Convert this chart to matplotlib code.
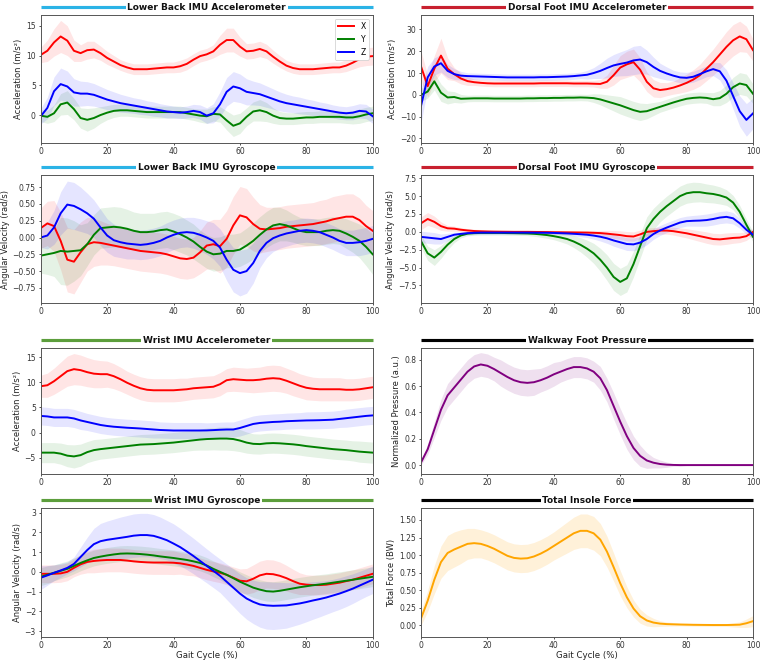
import numpy as np
import matplotlib
matplotlib.use("Agg")
import matplotlib.pyplot as plt
from matplotlib.transforms import offset_copy

# gait cycle grid (%)
gait = np.arange(0, 101, 2)

# ---- lower back accelerometer (m/s^2)
lb_acc_x = [10.1, 10.8, 12.2, 13.2, 12.5, 10.8, 10.4, 10.9, 11.0, 10.4,
            9.6, 9.0, 8.4, 8.0, 7.7, 7.7, 7.7, 7.8, 7.9, 8.0,
            8.0, 8.2, 8.6, 9.3, 9.9, 10.2, 10.7, 11.8, 12.6, 12.6,
            11.5, 10.7, 10.8, 11.1, 10.7, 9.8, 9.0, 8.3, 7.9, 7.7,
            7.7, 7.7, 7.8, 7.9, 8.0, 8.0, 8.3, 8.8, 9.4, 9.8,
            9.9]
lb_acc_y = [-0.1, -0.3, 0.3, 1.8, 2.1, 1.0, -0.5, -0.8, -0.5, 0.0,
            0.4, 0.7, 0.8, 0.8, 0.7, 0.6, 0.5, 0.5, 0.5, 0.5,
            0.5, 0.5, 0.3, 0.1, -0.1, -0.2, 0.2, 0.1, -0.9, -1.8,
            -1.4, -0.3, 0.6, 0.8, 0.5, -0.1, -0.5, -0.6, -0.6, -0.5,
            -0.4, -0.4, -0.3, -0.3, -0.3, -0.3, -0.4, -0.4, -0.2, 0.1,
            0.3]
lb_acc_z = [-0.2, 1.2, 4.0, 5.2, 4.8, 3.8, 3.6, 3.6, 3.4, 3.0,
            2.6, 2.3, 2.0, 1.8, 1.6, 1.4, 1.2, 1.0, 0.8, 0.6,
            0.5, 0.4, 0.5, 0.7, 0.5, -0.1, 0.3, 1.8, 3.9, 4.8,
            4.5, 3.9, 3.7, 3.5, 3.1, 2.7, 2.3, 2.0, 1.8, 1.6,
            1.4, 1.2, 1.0, 0.8, 0.6, 0.4, 0.3, 0.4, 0.7, 0.6,
            -0.2]
lb_acc_x_sd = [1.3, 1.8, 2.3, 2.7, 2.5, 1.8, 1.4, 1.5, 1.4, 1.2,
               1.1, 1.0, 0.9, 0.9, 0.9, 0.9, 0.9, 0.9, 0.9, 0.9,
               0.9, 1.0, 1.0, 1.0, 1.0, 1.0, 1.1, 1.6, 2.0, 2.0,
               1.6, 1.3, 1.3, 1.3, 1.2, 1.1, 1.0, 0.9, 0.9, 0.9,
               0.9, 0.9, 0.9, 0.9, 0.9, 0.9, 1.0, 1.1, 1.3, 1.5,
               1.5]
lb_acc_y_sd = [1.0, 1.1, 1.4, 1.8, 2.0, 1.8, 1.7, 1.9, 1.7, 1.4,
               1.2, 1.1, 1.0, 1.0, 1.0, 1.0, 1.0, 1.0, 1.0, 1.0,
               1.0, 1.0, 1.0, 1.0, 1.1, 1.2, 1.2, 1.3, 1.6, 1.8,
               1.7, 1.5, 1.6, 1.8, 1.6, 1.3, 1.1, 1.0, 1.0, 1.0,
               1.0, 1.0, 1.0, 1.0, 1.0, 1.0, 1.0, 1.1, 1.2, 1.2,
               1.2]
lb_acc_z_sd = [1.3, 1.8, 2.4, 2.7, 2.6, 2.3, 2.1, 2.0, 1.9, 1.8,
               1.7, 1.6, 1.5, 1.4, 1.3, 1.3, 1.2, 1.2, 1.1, 1.1,
               1.0, 1.0, 1.0, 1.1, 1.2, 1.3, 1.6, 2.1, 2.4, 2.5,
               2.4, 2.2, 2.0, 1.9, 1.8, 1.7, 1.6, 1.5, 1.4, 1.4,
               1.3, 1.3, 1.2, 1.2, 1.1, 1.1, 1.1, 1.2, 1.2, 1.2,
               1.2]

# ---- dorsal foot accelerometer (m/s^2)
df_acc_x = [13.0, 4.0, 12.0, 18.0, 12.0, 9.5, 7.5, 6.3, 5.8, 5.5,
            5.3, 5.2, 5.2, 5.2, 5.2, 5.2, 5.2, 5.2, 5.3, 5.3,
            5.3, 5.3, 5.3, 5.2, 5.2, 5.2, 5.1, 5.0, 6.0, 9.0,
            12.5, 14.0, 15.0, 11.5, 6.0, 3.0, 2.2, 2.6, 3.3, 4.3,
            5.5, 7.0, 9.0, 12.0, 15.0, 18.5, 22.0, 25.0, 26.8, 25.5,
            20.5]
df_acc_y = [0.0, 1.5, 6.2, 1.0, -1.2, -1.0, -1.8, -1.7, -1.6, -1.6,
            -1.6, -1.7, -1.7, -1.7, -1.7, -1.7, -1.6, -1.6, -1.5, -1.5,
            -1.4, -1.4, -1.3, -1.3, -1.2, -1.3, -1.5, -2.1, -3.0, -3.9,
            -4.8, -5.9, -7.0, -7.8, -7.5, -6.5, -5.5, -4.5, -3.5, -2.6,
            -1.8, -1.4, -1.2, -1.4, -2.0, -1.5, 0.5, 3.5, 5.2, 4.5,
            0.5]
df_acc_z = [-5.0, 8.0, 13.0, 14.5, 11.0, 9.5, 8.8, 8.6, 8.5, 8.4,
            8.3, 8.2, 8.1, 8.0, 8.0, 8.0, 8.0, 8.0, 8.1, 8.1,
            8.2, 8.3, 8.4, 8.6, 8.9, 9.2, 10.0, 11.0, 12.3, 13.5,
            14.2, 14.8, 15.8, 16.2, 15.0, 12.8, 11.0, 9.8, 8.8, 8.0,
            7.8, 8.3, 9.5, 10.8, 11.8, 10.8, 6.5, -0.5, -7.5, -11.5,
            -8.5]
df_acc_x_sd = [7.0, 5.0, 6.0, 8.0, 5.0, 3.0, 2.5, 2.0, 1.5, 1.5,
               1.5, 1.5, 1.5, 1.5, 1.5, 1.5, 1.5, 1.5, 1.5, 1.5,
               1.5, 1.5, 1.5, 1.5, 1.5, 1.5, 1.5, 2.0, 3.0, 4.5,
               5.5, 6.0, 6.0, 5.5, 4.5, 4.0, 3.5, 3.0, 3.0, 3.5,
               4.0, 4.5, 5.0, 5.5, 6.0, 6.5, 7.0, 7.2, 7.0, 6.0,
               5.0]
df_acc_y_sd = [3.0, 3.0, 4.0, 4.0, 3.0, 2.5, 2.0, 1.5, 1.5, 1.5,
               1.5, 1.5, 1.5, 1.5, 1.5, 1.5, 1.5, 1.5, 1.5, 1.5,
               1.5, 1.5, 1.5, 1.5, 1.5, 1.5, 2.0, 2.5, 3.0, 3.5,
               4.0, 4.0, 4.0, 4.0, 3.5, 3.0, 2.5, 2.5, 2.5, 2.5,
               2.5, 2.5, 2.5, 2.5, 3.0, 3.5, 4.0, 4.5, 5.0, 5.0,
               4.5]
df_acc_z_sd = [8.0, 5.0, 4.0, 4.0, 3.0, 2.5, 2.0, 1.5, 1.5, 1.5,
               1.5, 1.5, 1.5, 1.5, 1.5, 1.5, 1.5, 1.5, 1.5, 1.5,
               1.5, 1.5, 1.5, 1.5, 1.5, 2.0, 2.5, 3.5, 4.5, 5.0,
               5.5, 6.0, 6.5, 6.5, 5.5, 4.5, 3.5, 3.0, 2.5, 2.5,
               2.5, 2.5, 2.5, 2.5, 3.0, 4.0, 5.0, 6.0, 7.0, 7.5,
               7.0]

# ---- lower back gyroscope (rad/s)
lb_gyr_x = [0.14, 0.21, 0.17, -0.05, -0.33, -0.36, -0.22, -0.10, -0.07, -0.08,
            -0.10, -0.12, -0.14, -0.16, -0.18, -0.20, -0.21, -0.22, -0.23, -0.25,
            -0.28, -0.31, -0.32, -0.30, -0.22, -0.12, -0.10, -0.13, -0.02, 0.18,
            0.33, 0.30, 0.20, 0.13, 0.12, 0.13, 0.14, 0.16, 0.17, 0.18,
            0.19, 0.20, 0.22, 0.24, 0.27, 0.29, 0.31, 0.31, 0.26, 0.17,
            0.10]
lb_gyr_y = [-0.27, -0.25, -0.23, -0.20, -0.21, -0.20, -0.19, -0.10, 0.04, 0.14,
            0.15, 0.16, 0.15, 0.13, 0.10, 0.08, 0.08, 0.09, 0.11, 0.12,
            0.09, 0.05, 0.00, -0.06, -0.14, -0.21, -0.25, -0.24, -0.20, -0.20,
            -0.18, -0.12, -0.05, 0.04, 0.12, 0.18, 0.20, 0.18, 0.14, 0.10,
            0.08, 0.08, 0.08, 0.10, 0.11, 0.10, 0.06, 0.01, -0.05, -0.14,
            -0.25]
lb_gyr_z = [0.00, 0.03, 0.15, 0.36, 0.49, 0.47, 0.42, 0.36, 0.28, 0.15,
            0.03, -0.04, -0.07, -0.09, -0.10, -0.11, -0.10, -0.08, -0.05, 0.00,
            0.04, 0.07, 0.08, 0.07, 0.04, 0.00, -0.05, -0.15, -0.33, -0.48,
            -0.53, -0.50, -0.38, -0.20, -0.08, -0.01, 0.03, 0.06, 0.08, 0.10,
            0.11, 0.10, 0.08, 0.04, 0.00, -0.05, -0.08, -0.08, -0.07, -0.05,
            -0.02]
lb_gyr_x_sd = [0.30, 0.33, 0.38, 0.43, 0.48, 0.48, 0.45, 0.40, 0.36, 0.33,
               0.31, 0.30, 0.30, 0.30, 0.30, 0.30, 0.30, 0.30, 0.30, 0.30,
               0.30, 0.30, 0.30, 0.30, 0.32, 0.35, 0.37, 0.40, 0.42, 0.43,
               0.43, 0.43, 0.40, 0.36, 0.33, 0.32, 0.32, 0.32, 0.32, 0.32,
               0.32, 0.32, 0.33, 0.33, 0.34, 0.34, 0.34, 0.34, 0.33, 0.31,
               0.30]
lb_gyr_y_sd = [0.26, 0.30, 0.35, 0.50, 0.50, 0.45, 0.38, 0.32, 0.30, 0.30,
               0.30, 0.30, 0.30, 0.29, 0.28, 0.28, 0.28, 0.27, 0.27, 0.27,
               0.27, 0.27, 0.26, 0.26, 0.25, 0.25, 0.25, 0.25, 0.25, 0.25,
               0.25, 0.26, 0.27, 0.27, 0.27, 0.27, 0.25, 0.23, 0.21, 0.20,
               0.20, 0.20, 0.20, 0.20, 0.20, 0.20, 0.22, 0.23, 0.25, 0.28,
               0.30]
lb_gyr_z_sd = [0.15, 0.20, 0.25, 0.32, 0.35, 0.35, 0.33, 0.30, 0.28, 0.27,
               0.25, 0.24, 0.23, 0.23, 0.22, 0.22, 0.22, 0.22, 0.22, 0.22,
               0.22, 0.22, 0.22, 0.23, 0.24, 0.25, 0.27, 0.28, 0.31, 0.33,
               0.34, 0.33, 0.30, 0.25, 0.22, 0.20, 0.19, 0.19, 0.18, 0.18,
               0.18, 0.18, 0.18, 0.18, 0.18, 0.18, 0.19, 0.19, 0.20, 0.20,
               0.20]

# ---- dorsal foot gyroscope (rad/s)
df_gyr_x = [1.2, 1.8, 1.4, 0.8, 0.5, 0.45, 0.3, 0.2, 0.12, 0.08,
            0.05, 0.03, 0.02, 0.01, 0.0, 0.0, 0.0, -0.01, -0.02, -0.03,
            -0.05, -0.06, -0.07, -0.08, -0.09, -0.1, -0.13, -0.17, -0.25, -0.35,
            -0.45, -0.6, -0.65, -0.35, 0.0, 0.1, 0.18, 0.18, 0.1, -0.05,
            -0.2, -0.4, -0.6, -0.8, -1.0, -1.05, -0.95, -0.85, -0.8, -0.6,
            0.0]
df_gyr_y = [-1.3, -3.0, -3.6, -2.8, -1.8, -1.0, -0.5, -0.25, -0.18, -0.15,
            -0.15, -0.15, -0.15, -0.17, -0.18, -0.2, -0.22, -0.27, -0.35, -0.45,
            -0.6, -0.78, -1.0, -1.35, -1.8, -2.35, -3.0, -3.9, -5.0, -6.3,
            -7.0, -6.5, -4.5, -2.0, 0.5, 1.8, 2.8, 3.6, 4.3, 5.0,
            5.4, 5.55, 5.55, 5.4, 5.3, 5.1, 4.8, 4.1, 2.8, 1.0,
            -0.7]
df_gyr_z = [-0.7, -0.8, -0.9, -1.0, -0.7, -0.4, -0.28, -0.18, -0.13, -0.1,
            -0.1, -0.1, -0.1, -0.1, -0.1, -0.1, -0.1, -0.11, -0.12, -0.13,
            -0.15, -0.18, -0.22, -0.27, -0.33, -0.4, -0.52, -0.68, -0.9, -1.2,
            -1.45, -1.7, -1.75, -1.5, -1.0, -0.3, 0.2, 0.6, 0.95, 1.3,
            1.5, 1.55, 1.58, 1.65, 1.8, 2.0, 2.1, 1.9, 1.2, 0.3,
            -0.4]
df_gyr_x_sd = [0.9, 0.9, 0.8, 0.6, 0.4, 0.35, 0.3, 0.25, 0.25, 0.25,
               0.25, 0.25, 0.25, 0.25, 0.25, 0.25, 0.25, 0.25, 0.25, 0.25,
               0.25, 0.25, 0.25, 0.25, 0.25, 0.25, 0.3, 0.35, 0.45, 0.55,
               0.6, 0.65, 0.65, 0.6, 0.55, 0.5, 0.5, 0.5, 0.55, 0.6,
               0.65, 0.7, 0.75, 0.8, 0.8, 0.8, 0.8, 0.75, 0.7, 0.6,
               0.5]
df_gyr_y_sd = [0.9, 1.0, 1.1, 0.9, 0.7, 0.5, 0.35, 0.3, 0.3, 0.3,
               0.3, 0.3, 0.3, 0.3, 0.3, 0.3, 0.3, 0.35, 0.4, 0.45,
               0.5, 0.6, 0.7, 0.85, 1.0, 1.2, 1.4, 1.6, 1.8, 1.9,
               1.9, 1.9, 1.8, 1.7, 1.6, 1.5, 1.4, 1.4, 1.4, 1.4,
               1.4, 1.4, 1.35, 1.3, 1.25, 1.2, 1.1, 1.0, 0.9, 0.8,
               0.7]
df_gyr_z_sd = [0.8, 0.8, 0.8, 0.7, 0.5, 0.35, 0.25, 0.25, 0.25, 0.25,
               0.25, 0.25, 0.25, 0.25, 0.25, 0.25, 0.25, 0.25, 0.25, 0.25,
               0.25, 0.25, 0.25, 0.3, 0.35, 0.4, 0.5, 0.6, 0.7, 0.8,
               0.85, 0.9, 0.9, 0.85, 0.8, 0.75, 0.7, 0.7, 0.7, 0.7,
               0.7, 0.75, 0.8, 0.85, 0.85, 0.85, 0.85, 0.8, 0.7, 0.6,
               0.5]

# ---- wrist accelerometer (m/s^2)
wr_acc_x = [9.2, 9.4, 10.2, 11.2, 12.2, 12.6, 12.4, 12.0, 11.7, 11.6,
            11.6, 11.2, 10.6, 9.9, 9.3, 8.8, 8.5, 8.4, 8.4, 8.4,
            8.4, 8.5, 8.6, 8.8, 8.9, 9.0, 9.1, 9.6, 10.4, 10.6,
            10.5, 10.4, 10.4, 10.5, 10.7, 10.8, 10.7, 10.3, 9.8, 9.3,
            8.9, 8.7, 8.6, 8.6, 8.6, 8.6, 8.5, 8.5, 8.6, 8.8,
            9.0]
wr_acc_y = [-4.0, -4.0, -4.0, -4.2, -4.6, -4.75, -4.5, -3.9, -3.5, -3.3,
            -3.15, -3.0, -2.85, -2.7, -2.55, -2.4, -2.35, -2.3, -2.2, -2.1,
            -2.0, -1.85, -1.7, -1.55, -1.4, -1.3, -1.25, -1.2, -1.2, -1.3,
            -1.6, -2.0, -2.25, -2.3, -2.15, -2.1, -2.15, -2.25, -2.35, -2.5,
            -2.7, -2.85, -3.0, -3.15, -3.3, -3.4, -3.5, -3.65, -3.8, -3.9,
            -4.0]
wr_acc_z = [3.3, 3.2, 3.0, 3.0, 3.0, 2.8, 2.4, 2.1, 1.8, 1.5,
            1.3, 1.15, 1.05, 0.95, 0.88, 0.8, 0.7, 0.6, 0.5, 0.45,
            0.4, 0.4, 0.4, 0.4, 0.4, 0.42, 0.48, 0.55, 0.6, 0.6,
            0.9, 1.3, 1.7, 1.9, 2.0, 2.1, 2.15, 2.25, 2.3, 2.35,
            2.4, 2.42, 2.45, 2.5, 2.55, 2.7, 2.85, 3.0, 3.15, 3.3,
            3.4]
wr_acc_x_sd = [2.2, 2.4, 2.6, 2.8, 3.0, 3.1, 3.0, 2.9, 2.8, 2.7,
               2.6, 2.5, 2.4, 2.3, 2.3, 2.3, 2.3, 2.3, 2.3, 2.3,
               2.3, 2.3, 2.2, 2.2, 2.2, 2.2, 2.2, 2.3, 2.3, 2.4,
               2.4, 2.4, 2.5, 2.5, 2.6, 2.6, 2.6, 2.5, 2.5, 2.4,
               2.4, 2.3, 2.3, 2.3, 2.3, 2.3, 2.2, 2.2, 2.2, 2.2,
               2.2]
wr_acc_y_sd = [2.0, 2.0, 2.0, 2.1, 2.2, 2.3, 2.2, 2.1, 2.1, 2.0,
               2.0, 2.0, 2.0, 2.0, 2.0, 2.0, 2.0, 2.0, 2.0, 2.0,
               2.0, 2.0, 2.0, 2.0, 2.1, 2.2, 2.2, 2.3, 2.3, 2.3,
               2.2, 2.1, 2.0, 2.0, 2.0, 2.0, 2.0, 2.0, 2.0, 2.0,
               2.0, 2.0, 2.0, 2.0, 2.0, 2.0, 2.0, 2.0, 2.1, 2.1,
               2.1]
wr_acc_z_sd = [1.8, 1.8, 1.8, 1.8, 1.8, 1.8, 1.8, 1.7, 1.7, 1.7,
               1.7, 1.7, 1.7, 1.7, 1.7, 1.7, 1.7, 1.7, 1.6, 1.6,
               1.6, 1.6, 1.6, 1.6, 1.6, 1.5, 1.5, 1.5, 1.5, 1.5,
               1.6, 1.6, 1.6, 1.6, 1.6, 1.6, 1.6, 1.6, 1.6, 1.6,
               1.7, 1.7, 1.7, 1.7, 1.7, 1.7, 1.8, 1.8, 1.8, 1.8,
               1.8]

# ---- walkway foot pressure (a.u.)
walk_p = [0.02, 0.12, 0.27, 0.42, 0.53, 0.59, 0.65, 0.71, 0.75, 0.765,
          0.755, 0.73, 0.70, 0.67, 0.645, 0.63, 0.625, 0.63, 0.645, 0.665,
          0.69, 0.71, 0.73, 0.745, 0.745, 0.735, 0.71, 0.66, 0.57, 0.45,
          0.33, 0.22, 0.13, 0.07, 0.035, 0.018, 0.008, 0.003, 0.001, 0.0,
          0.0, 0.0, 0.0, 0.0, 0.0, 0.0, 0.0, 0.0, 0.0, 0.0,
          0.0]
walk_p_sd = [0.02, 0.04, 0.06, 0.08, 0.09, 0.09, 0.09, 0.09, 0.09, 0.09,
             0.09, 0.09, 0.1, 0.1, 0.1, 0.1, 0.1, 0.1, 0.09, 0.09,
             0.09, 0.08, 0.08, 0.08, 0.08, 0.08, 0.08, 0.09, 0.09, 0.1,
             0.1, 0.1, 0.09, 0.08, 0.06, 0.04, 0.03, 0.02, 0.01, 0.01,
             0.005, 0.005, 0.005, 0.005, 0.005, 0.005, 0.005, 0.005, 0.005, 0.005,
             0.005]

# ---- wrist gyroscope (rad/s)
wr_gyr_x = [-0.1, -0.1, -0.1, -0.08, 0.0, 0.2, 0.38, 0.5, 0.55, 0.58,
            0.6, 0.6, 0.6, 0.57, 0.53, 0.5, 0.48, 0.47, 0.47, 0.47,
            0.46, 0.43, 0.37, 0.3, 0.2, 0.1, 0.02, -0.05, -0.15, -0.3,
            -0.45, -0.48, -0.35, -0.18, -0.1, -0.12, -0.2, -0.32, -0.47, -0.6,
            -0.65, -0.67, -0.67, -0.65, -0.6, -0.55, -0.47, -0.4, -0.3, -0.2,
            -0.1]
wr_gyr_y = [-0.25, -0.15, -0.05, 0.05, 0.15, 0.3, 0.45, 0.58, 0.7, 0.77,
            0.83, 0.88, 0.92, 0.93, 0.92, 0.9, 0.87, 0.83, 0.78, 0.74,
            0.7, 0.65, 0.6, 0.53, 0.45, 0.32, 0.15, 0.0, -0.15, -0.32,
            -0.5, -0.65, -0.8, -0.9, -0.98, -1.0, -0.96, -0.9, -0.84, -0.78,
            -0.73, -0.68, -0.64, -0.6, -0.55, -0.5, -0.45, -0.4, -0.35, -0.3,
            -0.25]
wr_gyr_z = [-0.3, -0.18, -0.05, 0.07, 0.2, 0.4, 0.75, 1.1, 1.4, 1.55,
            1.62, 1.67, 1.72, 1.77, 1.83, 1.86, 1.86, 1.82, 1.72, 1.6,
            1.43, 1.25, 1.03, 0.8, 0.55, 0.3, 0.05, -0.2, -0.5, -0.8,
            -1.1, -1.35, -1.52, -1.65, -1.7, -1.72, -1.71, -1.7, -1.65, -1.6,
            -1.53, -1.45, -1.38, -1.3, -1.2, -1.1, -0.98, -0.85, -0.7, -0.55,
            -0.4]
wr_gyr_x_sd = [0.45, 0.45, 0.45, 0.45, 0.45, 0.45, 0.5, 0.55, 0.6, 0.6,
               0.6, 0.6, 0.6, 0.6, 0.6, 0.6, 0.6, 0.6, 0.6, 0.6,
               0.6, 0.55, 0.55, 0.5, 0.5, 0.5, 0.5, 0.5, 0.5, 0.55,
               0.6, 0.65, 0.7, 0.72, 0.72, 0.72, 0.7, 0.65, 0.6, 0.55,
               0.5, 0.5, 0.5, 0.5, 0.5, 0.5, 0.5, 0.5, 0.5, 0.5,
               0.5]
wr_gyr_y_sd = [0.45, 0.45, 0.4, 0.4, 0.4, 0.4, 0.4, 0.4, 0.4, 0.4,
               0.4, 0.4, 0.4, 0.4, 0.4, 0.4, 0.4, 0.4, 0.4, 0.4,
               0.4, 0.4, 0.4, 0.4, 0.4, 0.4, 0.4, 0.4, 0.45, 0.5,
               0.5, 0.5, 0.5, 0.5, 0.5, 0.5, 0.5, 0.5, 0.5, 0.5,
               0.5, 0.5, 0.5, 0.5, 0.5, 0.5, 0.5, 0.5, 0.5, 0.5,
               0.5]
wr_gyr_z_sd = [0.6, 0.5, 0.4, 0.35, 0.3, 0.35, 0.5, 0.65, 0.8, 0.9,
               0.95, 1.0, 1.05, 1.08, 1.1, 1.1, 1.1, 1.08, 1.05, 1.0,
               1.0, 0.95, 0.92, 0.9, 0.88, 0.86, 0.85, 0.85, 0.9, 0.95,
               1.0, 1.05, 1.1, 1.15, 1.2, 1.2, 1.18, 1.15, 1.1, 1.05,
               1.0, 0.95, 0.9, 0.85, 0.82, 0.8, 0.78, 0.75, 0.72, 0.7,
               0.7]

# ---- total insole force (BW)
insole_f = [0.1, 0.35, 0.65, 0.9, 1.03, 1.08, 1.12, 1.16, 1.17, 1.16,
            1.13, 1.09, 1.04, 0.99, 0.96, 0.95, 0.955, 0.98, 1.02, 1.07,
            1.13, 1.19, 1.25, 1.31, 1.345, 1.345, 1.31, 1.22, 1.05, 0.83,
            0.6, 0.4, 0.24, 0.13, 0.07, 0.04, 0.025, 0.018, 0.015, 0.012,
            0.01, 0.008, 0.007, 0.006, 0.005, 0.005, 0.005, 0.007, 0.01, 0.03,
            0.06]
insole_f_sd = [0.1, 0.15, 0.2, 0.23, 0.25, 0.25, 0.24, 0.22, 0.21, 0.2,
               0.2, 0.2, 0.2, 0.2, 0.2, 0.2, 0.2, 0.2, 0.2, 0.2,
               0.2, 0.21, 0.22, 0.23, 0.24, 0.24, 0.24, 0.23, 0.22, 0.2,
               0.18, 0.15, 0.12, 0.1, 0.08, 0.06, 0.04, 0.03, 0.025, 0.02,
               0.02, 0.02, 0.02, 0.02, 0.02, 0.02, 0.02, 0.03, 0.04, 0.06,
               0.08]

BLUE_T = '#2bb3e6'
RED_T = '#c8202f'
GREEN_T = '#5c9e3c'

fig = plt.figure(figsize=(15.2, 13.2), dpi=50)

col_x = [0.0536, 0.554]
row_y = [(0.7833, 0.1939), (0.5409, 0.1939), (0.2818, 0.1909), (0.0348, 0.1955)]
W = 0.4368


def panel(r, c, title, tcolor, ylabel, series, ylim, yticks, legend=False, xlabel=False):
    b, h = row_y[r]
    ax = fig.add_axes([col_x[c], b, W, h])
    for mean, sd, color, lab, a in series:
        mean = np.array(mean)
        sd = np.array(sd)
        ax.fill_between(gait, mean - sd, mean + sd, color=color, alpha=a, lw=0)
        ax.plot(gait, mean, color=color, lw=2.8, label=lab)
    ax.set_xlim(0, 100)
    ax.set_ylim(*ylim)
    ax.set_xticks([0, 20, 40, 60, 80, 100])
    ax.set_yticks(yticks)
    ax.tick_params(labelsize=11, colors='#333333', width=1.2)
    ax.tick_params(axis='x', pad=2.5)
    for s in ax.spines.values():
        s.set_color('#555555')
        s.set_linewidth(1.4)
    ax.set_ylabel(ylabel, fontsize=12, color='#222222')
    if xlabel:
        ax.set_xlabel('Gait Cycle (%)', fontsize=12.5, color='#222222', labelpad=1)
    # title with coloured rule on both sides
    tr = offset_copy(ax.transAxes, fig=fig, y=8, units='dots')
    ax.plot([0, 1], [1, 1], transform=tr, color=tcolor, lw=4.5, clip_on=False,
            solid_capstyle='butt')
    ax.text(0.5, 1, title, transform=tr, ha='center', va='center', fontsize=13,
            fontweight='bold', color='#111111',
            bbox=dict(facecolor='white', edgecolor='none', pad=2.5))
    if legend:
        ax.legend(loc='upper right', fontsize=11, handlelength=2.2, framealpha=1,
                  edgecolor='#cccccc')
    return ax


panel(0, 0, 'Lower Back IMU Accelerometer', BLUE_T, 'Acceleration (m/s²)',
      [(lb_acc_x, lb_acc_x_sd, 'red', 'X', 0.1),
       (lb_acc_y, lb_acc_y_sd, 'green', 'Y', 0.1),
       (lb_acc_z, lb_acc_z_sd, 'blue', 'Z', 0.1)],
      (-4.7, 16.8), [0, 5, 10, 15], legend=True)

panel(0, 1, 'Dorsal Foot IMU Accelerometer', RED_T, 'Acceleration (m/s²)',
      [(df_acc_x, df_acc_x_sd, 'red', 'X', 0.1),
       (df_acc_y, df_acc_y_sd, 'green', 'Y', 0.1),
       (df_acc_z, df_acc_z_sd, 'blue', 'Z', 0.1)],
      (-22.1, 36.6), [-20, -10, 0, 10, 20, 30])

panel(1, 0, 'Lower Back IMU Gyroscope', BLUE_T, 'Angular Velocity (rad/s)',
      [(lb_gyr_x, lb_gyr_x_sd, 'red', 'X', 0.1),
       (lb_gyr_y, lb_gyr_y_sd, 'green', 'Y', 0.1),
       (lb_gyr_z, lb_gyr_z_sd, 'blue', 'Z', 0.1)],
      (-0.975, 0.93), [-0.75, -0.5, -0.25, 0, 0.25, 0.5, 0.75])

panel(1, 1, 'Dorsal Foot IMU Gyroscope', RED_T, 'Angular Velocity (rad/s)',
      [(df_gyr_x, df_gyr_x_sd, 'red', 'X', 0.1),
       (df_gyr_y, df_gyr_y_sd, 'green', 'Y', 0.1),
       (df_gyr_z, df_gyr_z_sd, 'blue', 'Z', 0.1)],
      (-9.95, 7.95), [-7.5, -5, -2.5, 0, 2.5, 5, 7.5])

panel(2, 0, 'Wrist IMU Accelerometer', GREEN_T, 'Acceleration (m/s²)',
      [(wr_acc_x, wr_acc_x_sd, 'red', 'X', 0.1),
       (wr_acc_y, wr_acc_y_sd, 'green', 'Y', 0.1),
       (wr_acc_z, wr_acc_z_sd, 'blue', 'Z', 0.1)],
      (-8.25, 16.8), [-5, 0, 5, 10, 15])

panel(2, 1, 'Walkway Foot Pressure', 'black', 'Normalized Pressure (a.u.)',
      [(walk_p, walk_p_sd, 'purple', None, 0.12)],
      (-0.068, 0.89), [0, 0.2, 0.4, 0.6, 0.8])

panel(3, 0, 'Wrist IMU Gyroscope', GREEN_T, 'Angular Velocity (rad/s)',
      [(wr_gyr_x, wr_gyr_x_sd, 'red', 'X', 0.1),
       (wr_gyr_y, wr_gyr_y_sd, 'green', 'Y', 0.1),
       (wr_gyr_z, wr_gyr_z_sd, 'blue', 'Z', 0.1)],
      (-3.3, 3.23), [-3, -2, -1, 0, 1, 2, 3], xlabel=True)

panel(3, 1, 'Total Insole Force', 'black', 'Total Force (BW)',
      [(insole_f, insole_f_sd, 'orange', None, 0.15)],
      (-0.166, 1.67), [0, 0.25, 0.5, 0.75, 1.0, 1.25, 1.5], xlabel=True)

fig.savefig('out.png', dpi=50)
